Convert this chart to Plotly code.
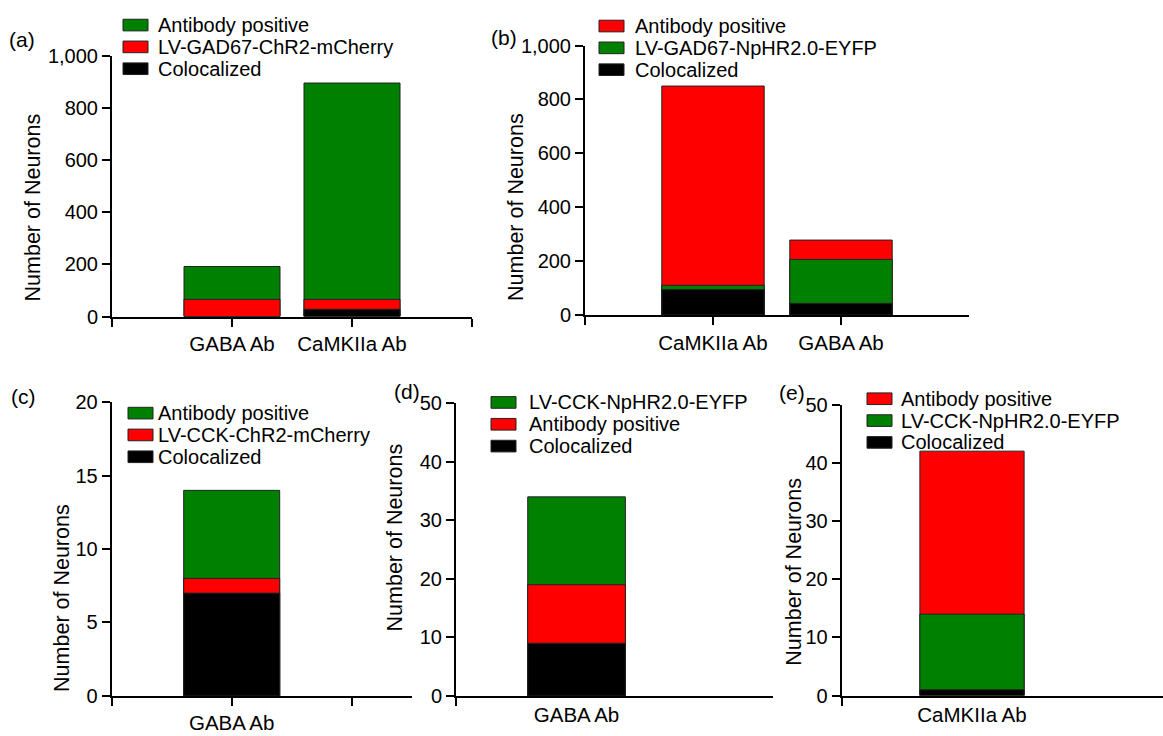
import plotly.graph_objects as go

W, H = 1163, 736
FONT = "Liberation Sans, Arial, Helvetica, sans-serif"
GREEN, RED, BLACK = "#008000", "#FF0000", "#000000"
OUTLINE = "#222222"

# ---------------- data ----------------
# Panel (a)
a_categories = ["GABA Ab", "CaMKIIa Ab"]
a_series = ["Antibody positive", "LV-GAD67-ChR2-mCherry", "Colocalized"]
a_antibody_positive = [192, 895]
a_lv_gad67_chr2 = [66, 66]
a_colocalized = [0, 28]
a_yticks = [0, 200, 400, 600, 800, 1000]

# Panel (b)
b_categories = ["CaMKIIa Ab", "GABA Ab"]
b_series = ["Antibody positive", "LV-GAD67-NpHR2.0-EYFP", "Colocalized"]
b_antibody_positive = [850, 278]
b_lv_gad67_nphr = [110, 206]
b_colocalized = [94, 43]
b_yticks = [0, 200, 400, 600, 800, 1000]

# Panel (c)
c_categories = ["GABA Ab"]
c_series = ["Antibody positive", "LV-CCK-ChR2-mCherry", "Colocalized"]
c_antibody_positive = [14]
c_lv_cck_chr2 = [8]
c_colocalized = [7]
c_yticks = [0, 5, 10, 15, 20]

# Panel (d)
d_categories = ["GABA Ab"]
d_series = ["LV-CCK-NpHR2.0-EYFP", "Antibody positive", "Colocalized"]
d_lv_cck_nphr = [34]
d_antibody_positive = [19]
d_colocalized = [9]
d_yticks = [0, 10, 20, 30, 40, 50]

# Panel (e)
e_categories = ["CaMKIIa Ab"]
e_series = ["Antibody positive", "LV-CCK-NpHR2.0-EYFP", "Colocalized"]
e_antibody_positive = [42]
e_lv_cck_nphr = [14]
e_colocalized = [1]
e_yticks = [0, 10, 20, 30, 40, 50]

y_title = "Number of Neurons"

# ---------------- layout config (pixels) ----------------
panels = [
    dict(label="(a)", cats=a_categories, series=a_series,
         values=[a_antibody_positive, a_lv_gad67_chr2, a_colocalized],
         colors=[GREEN, RED, BLACK], yticks=a_yticks, yfmt=",d",
         xpx=(112, 472), xrange=(-1, 2), ypx=(46, 315), bw=0.8,
         major_ticks="outside", minor_vals=[-1, 2],
         leg=dict(sx=123, tx=157, rows=(14.5, 37, 59.5)),
         lab=(8, 29), ytl=(33, 202.5)),
    dict(label="(b)", cats=b_categories, series=b_series,
         values=[b_antibody_positive, b_lv_gad67_nphr, b_colocalized],
         colors=[RED, GREEN, BLACK], yticks=b_yticks, yfmt=",d",
         xpx=(585, 969), xrange=(-1, 2), ypx=(35.7, 313.3), bw=0.8,
         major_ticks="outside", minor_vals=[-1],
         leg=dict(sx=599, tx=634, rows=(15.5, 38, 60.5)),
         lab=(490, 27), ytl=(516, 202)),
    dict(label="(c)", cats=c_categories, series=c_series,
         values=[c_antibody_positive, c_lv_cck_chr2, c_colocalized],
         colors=[GREEN, RED, BLACK], yticks=c_yticks, yfmt="d",
         xpx=(111.7, 411.7), xrange=(-1, 1.5), ypx=(403.3, 706), bw=0.8,
         major_ticks="outside", minor_vals=[-1, 1],
         leg=dict(sx=128, tx=157, rows=(414.5, 437, 459.5)),
         lab=(10, 397), ytl=(62, 605)),
    dict(label="(d)", cats=d_categories, series=d_series,
         values=[d_lv_cck_nphr, d_antibody_positive, d_colocalized],
         colors=[GREEN, RED, BLACK], yticks=d_yticks, yfmt="d",
         xpx=(456, 773), xrange=(-1, 1.63), ypx=(404.3, 706), bw=0.81,
         major_ticks="", minor_vals=[-1],
         leg=dict(sx=491, tx=528, rows=(403.5, 426, 448.5)),
         lab=(393, 392), ytl=(394.7, 543)),
    dict(label="(e)", cats=e_categories, series=e_series,
         values=[e_antibody_positive, e_lv_cck_nphr, e_colocalized],
         colors=[RED, GREEN, BLACK], yticks=e_yticks, yfmt="d",
         xpx=(841.7, 1163), xrange=(-1, 1.466), ypx=(405.7, 705.7), bw=0.8,
         major_ticks="", minor_vals=[-1],
         leg=dict(sx=867, tx=900, rows=(399.7, 422.2, 444.7)),
         lab=(778, 393), ytl=(794, 578)),
]


def px_x(v):
    return v / W


def px_y(v):
    return 1 - v / H


fig = go.Figure()
layout = dict(
    width=W, height=H, margin=dict(l=0, r=0, t=0, b=0),
    paper_bgcolor="white", plot_bgcolor="white",
    barmode="overlay", showlegend=False,
    font=dict(family=FONT, size=20, color="black"),
)
shapes, annotations = [], []

for i, p in enumerate(panels):
    sfx = "" if i == 0 else str(i + 1)
    xref, yref = "x" + sfx, "y" + sfx
    pos = list(range(len(p["cats"])))
    for name, vals, col in zip(p["series"], p["values"], p["colors"]):
        fig.add_trace(go.Bar(
            x=pos, y=vals, name=name, width=p["bw"],
            marker=dict(color=col, line=dict(color=OUTLINE, width=1)),
            xaxis=xref, yaxis=yref, showlegend=False,
        ))
    layout["xaxis" + sfx] = dict(
        domain=[px_x(p["xpx"][0]), px_x(p["xpx"][1])],
        range=list(p["xrange"]), anchor=yref, showgrid=False, zeroline=False,
        showline=True, linecolor="black", linewidth=2,
        tickmode="array", tickvals=pos, ticktext=p["cats"],
        ticks=p["major_ticks"], ticklen=8, tickwidth=2, tickcolor="black",
        tickfont=dict(size=20.5, family=FONT, color="black"),
        minor=dict(tickmode="array", tickvals=p["minor_vals"], ticks="outside",
                   ticklen=8, tickwidth=2, tickcolor="black", showgrid=False),
        fixedrange=True,
    )
    layout["yaxis" + sfx] = dict(
        domain=[px_y(p["ypx"][1]), px_y(p["ypx"][0])],
        range=[p["yticks"][0], p["yticks"][-1]], anchor=xref,
        showgrid=False, zeroline=False,
        showline=True, linecolor="black", linewidth=2,
        tickmode="array", tickvals=p["yticks"], tickformat=p["yfmt"],
        ticks="outside", ticklen=8, tickwidth=2, tickcolor="black",
        tickfont=dict(size=20, family=FONT, color="black"),
        fixedrange=True,
    )
    # y title
    annotations.append(dict(
        text=y_title, textangle=-90, x=px_x(p["ytl"][0]), y=px_y(p["ytl"][1]),
        xref="paper", yref="paper", xanchor="center", yanchor="middle",
        showarrow=False, font=dict(size=21.5, family=FONT, color="black")))
    # panel label
    annotations.append(dict(
        text=p["label"], x=px_x(p["lab"][0]), y=px_y(p["lab"][1]),
        xref="paper", yref="paper", xanchor="left", yanchor="middle",
        showarrow=False, borderpad=0,
        font=dict(size=21, family=FONT, color="black")))
    # legend
    lg = p["leg"]
    for name, col, yc in zip(p["series"], p["colors"], lg["rows"]):
        shapes.append(dict(
            type="rect", xref="paper", yref="paper",
            x0=px_x(lg["sx"]), x1=px_x(lg["sx"] + 25),
            y0=px_y(yc + 6), y1=px_y(yc - 6),
            fillcolor=col, line=dict(color=OUTLINE, width=1)))
        annotations.append(dict(
            text=name, x=px_x(lg["tx"]), y=px_y(yc), xref="paper", yref="paper",
            xanchor="left", yanchor="middle", showarrow=False, borderpad=0,
            font=dict(size=20, family=FONT, color="black")))

layout["shapes"] = shapes
layout["annotations"] = annotations
fig.update_layout(**layout)
fig.write_html("out.html")
